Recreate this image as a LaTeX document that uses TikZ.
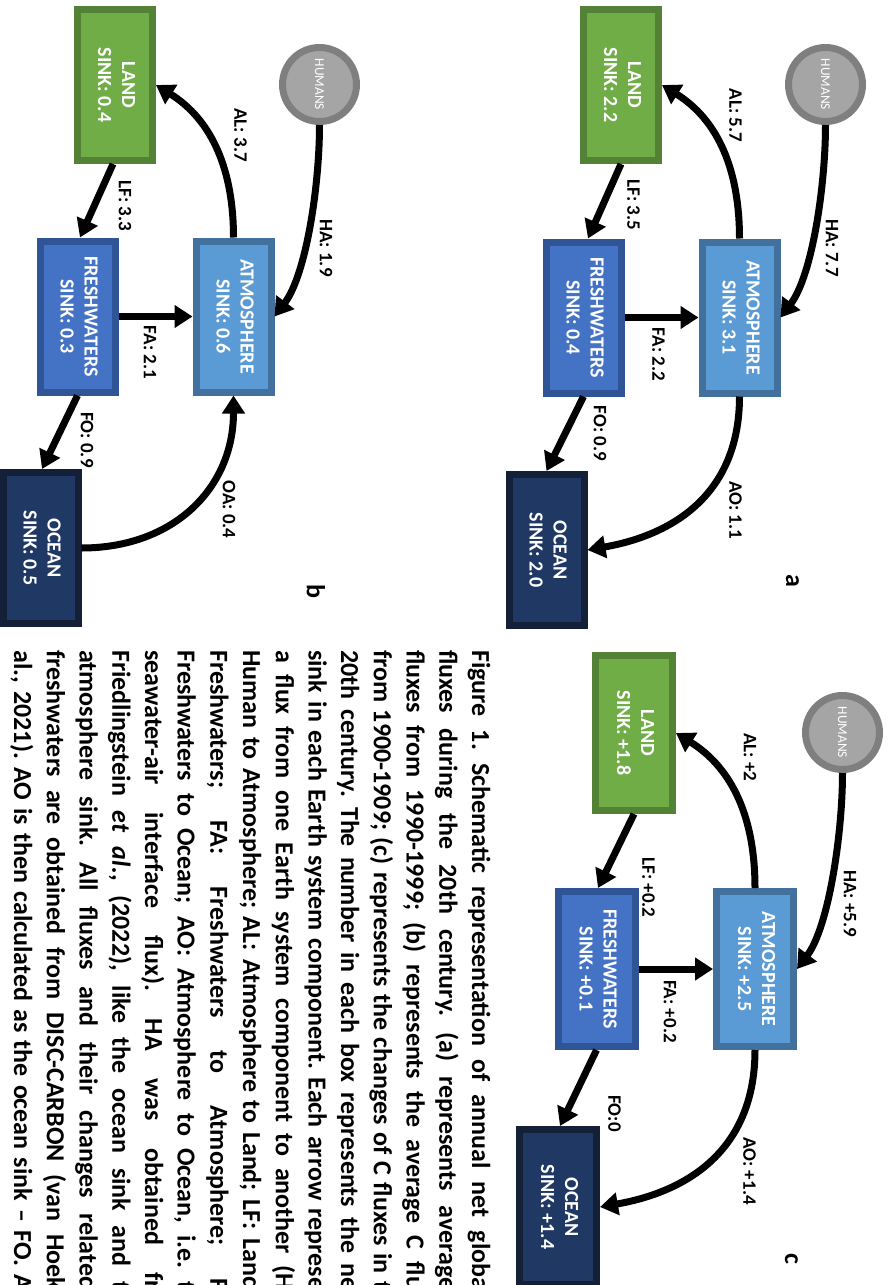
\documentclass[tikz,border=0pt]{standalone}
\usepackage{graphicx}
\usepackage{fontspec}
\setmainfont{Carlito}
\usetikzlibrary{arrows.meta,calc}
\frenchspacing

\definecolor{landfill}{HTML}{70AD47}
\definecolor{landedge}{HTML}{538135}
\definecolor{fwfill}{HTML}{4472C4}
\definecolor{fwedge}{HTML}{2F5597}
\definecolor{atmfill}{HTML}{5B9BD5}
\definecolor{atmedge}{HTML}{41719C}
\definecolor{ocfill}{HTML}{203864}
\definecolor{ocedge}{HTML}{141F38}
\definecolor{humfill}{HTML}{A5A5A5}
\definecolor{humedge}{HTML}{7F7F7F}

% two-line box label, set vertically
\newcommand{\sinktext}[2]{\rotatebox{-90}{\begin{tabular}{@{}c@{}}#1\\#2\end{tabular}}}
% one justified caption line
\newcommand{\capline}[1]{\makebox[640pt][s]{#1}}

\tikzset{
  sinkbox/.style={rectangle, line width=7pt, minimum width=75pt, minimum height=151pt,
    inner sep=0pt, text=white, font=\fontsize{20}{24}\selectfont\bfseries},
  bigbox/.style={minimum width=77pt, minimum height=155pt},
  landbox/.style={sinkbox, draw=landedge, fill=landfill},
  fwbox/.style={sinkbox, draw=fwedge, fill=fwfill},
  atmbox/.style={sinkbox, draw=atmedge, fill=atmfill},
  ocbox/.style={sinkbox, draw=ocedge, fill=ocfill},
  humnode/.style={circle, line width=7pt, minimum size=74pt, inner sep=0pt,
    draw=humedge, fill=humfill, text=white, font=\fontsize{13.5}{15}\selectfont},
  flux/.style={line width=7pt, -{Triangle[length=18pt,width=22pt]}},
  human flux/.style={flux, out=-90, in=53, out distance=60pt, in distance=53pt},
  fluxlabel/.style={rotate=-90, inner sep=0pt, font=\fontsize{19}{23}\selectfont\bfseries},
  panel/.style={rotate=-90, inner sep=0pt, font=\fontsize{26}{28}\selectfont\bfseries},
  capnode/.style={rotate=-90, anchor=base west, inner sep=0pt,
    font=\fontsize{26}{30}\selectfont\bfseries}
}

\begin{document}
\begin{tikzpicture}[x=1pt,y=1pt]
\useasboundingbox (0,0) rectangle (889,-1285);
\clip (0,0) rectangle (889,-1285);

% ---------- panel a : 1990-1999 ----------
\node[landbox] (landA) at (621,-85) {\sinktext{LAND}{SINK: 2.2}};
\node[humnode] (humA) at (825.5,-84.5) {\rotatebox{-90}{HUMANS}};
\node[atmbox] (atmA) at (739.5,-317.5) {\sinktext{ATMOSPHERE}{SINK: 3.1}};
\node[fwbox] (fwA) at (583.5,-317.5) {\sinktext{FRESHWATERS}{SINK: 0.4}};
\node[ocbox] (ocA) at (546.5,-550) {\sinktext{OCEAN}{SINK: 2.0}};

\draw[flux] (atmA.north) to[out=90,in=-32] (landA.east);
\draw[human flux] (humA.south) to (atmA.east);
\draw[flux] (landA.south) -- ([xshift=4.5pt]fwA.north);
\draw[flux] (fwA.east) -- (atmA.west);
\draw[flux] (fwA.south) -- (ocA.north);
\draw[flux] (atmA.south) to[out=-90,in=10,looseness=1.1] (ocA.east);

\node[fluxlabel] (alA) at (735.5,-115.5) {AL: 5.7};
\node[fluxlabel] (lfA) at (633.5,-205) {LF: 3.5};
\node[fluxlabel] (haA) at (832,-248) {HA: 7.7};
\node[fluxlabel] (faA) at (658.5,-354.5) {FA: 2.2};
\node[fluxlabel] (foA) at (600,-433.5) {FO: 0.9};
\node[fluxlabel] (aoA) at (735.5,-510) {AO: 1.1};
\node[panel] (tagA) at (792.5,-581) {a};

% ---------- panel b : 1900-1909 ----------
\node[landbox] (landB) at (115,-85) {\sinktext{LAND}{SINK: 0.4}};
\node[humnode] (humB) at (319.5,-84.5) {\rotatebox{-90}{HUMANS}};
\node[atmbox] (atmB) at (233.5,-316.5) {\sinktext{ATMOSPHERE}{SINK: 0.6}};
\node[fwbox] (fwB) at (77.5,-316.5) {\sinktext{FRESHWATERS}{SINK: 0.3}};
\node[ocbox] (ocB) at (40.5,-548) {\sinktext{OCEAN}{SINK: 0.5}};

\draw[flux] (atmB.north) to[out=90,in=-32] (landB.east);
\draw[human flux] (humB.south) to (atmB.east);
\draw[flux] ([xshift=-2pt]landB.south) -- ([xshift=2.5pt]fwB.north);
\draw[flux] (fwB.east) -- (atmB.west);
\draw[flux] (fwB.south) -- ([xshift=1.5pt]ocB.north);
\draw[flux] (ocB.east) to[out=0,in=-90,looseness=1.1] (atmB.south);

\node[fluxlabel] (alB) at (240.5,-135) {AL: 3.7};
\node[fluxlabel] (lfB) at (125,-206) {LF: 3.3};
\node[fluxlabel] (haB) at (326,-248) {HA: 1.9};
\node[fluxlabel] (faB) at (150,-352.5) {FA: 2.1};
\node[fluxlabel] (foB) at (87,-440) {FO: 0.9};
\node[fluxlabel] (oaB) at (229,-509.5) {OA: 0.4};
\node[panel] (tagB) at (316,-591) {b};

% ---------- panel c : changes ----------
\node[landbox,bigbox] (landC) at (634,-733) {\sinktext{LAND}{SINK: +1.8}};
\node[humnode] (humC) at (842.5,-732.5) {\rotatebox{-90}{HUMANS}};
\node[atmbox,bigbox] (atmC) at (755,-969) {\sinktext{ATMOSPHERE}{SINK: +2.5}};
\node[fwbox,bigbox] (fwC) at (596.5,-969) {\sinktext{FRESHWATERS}{SINK: +0.1}};
\node[ocbox,bigbox] (ocC) at (558,-1207) {\sinktext{OCEAN}{SINK: +1.4}};

\draw[flux] (atmC.north) to[out=90,in=-32] (landC.east);
\draw[human flux] (humC.south) to (atmC.east);
\draw[flux] (landC.south) -- ([xshift=1.5pt]fwC.north);
\draw[flux] (fwC.east) -- (atmC.west);
\draw[flux] (fwC.south) -- ([xshift=2pt]ocC.north);
\draw[flux] (atmC.south) to[out=-90,in=10,looseness=1.1] (ocC.east);

\node[fluxlabel] (alC) at (750,-757.5) {AL: +2};
\node[fluxlabel] (lfC) at (648.5,-887.5) {LF: +0.2};
\node[fluxlabel] (haC) at (850,-903.5) {HA: +5.9};
\node[fluxlabel] (faC) at (670,-1011.5) {FA: +0.2};
\node[fluxlabel] (foC) at (614.5,-1113.5) {FO:0};
\node[fluxlabel] (aoC) at (749.5,-1171) {AO: +1.4};
\node[panel] (tagC) at (791.5,-1259) {c};

% ---------- caption ----------
\node[capnode] (cap1) at (472.0,-650) {\capline{Figure 1. Schematic representation of annual net globa}};
\node[capnode] (cap2) at (439.3,-650) {\capline{fluxes during the 20th century. (a) represents average}};
\node[capnode] (cap3) at (406.6,-650) {\capline{fluxes from 1990-1999; (b) represents the average C flu}};
\node[capnode] (cap4) at (373.9,-650) {\capline{from 1900-1909; (c) represents the changes of C fluxes in t}};
\node[capnode] (cap5) at (341.2,-650) {\capline{20th century. The number in each box represents the ne}};
\node[capnode] (cap6) at (308.5,-650) {\capline{sink in each Earth system component. Each arrow represe}};
\node[capnode] (cap7) at (275.8,-650) {\capline{a flux from one Earth system component to another (H}};
\node[capnode] (cap8) at (243.1,-650) {\capline{Human to Atmosphere; AL: Atmosphere to Land; LF: Land}};
\node[capnode] (cap9) at (210.4,-650) {\capline{Freshwaters; FA: Freshwaters to Atmosphere; F}};
\node[capnode] (cap10) at (177.7,-650) {\capline{Freshwaters to Ocean; AO: Atmosphere to Ocean, i.e. t}};
\node[capnode] (cap11) at (145.0,-650) {\capline{seawater-air interface flux). HA was obtained fr}};
\node[capnode] (cap12) at (112.3,-650) {\capline{Friedlingstein \textit{et al.}, (2022), like the ocean sink and t}};
\node[capnode] (cap13) at (79.6,-650) {\capline{atmosphere sink. All fluxes and their changes related}};
\node[capnode] (cap14) at (46.9,-650) {\capline{freshwaters are obtained from DISC-CARBON (van Hoek}};
\node[capnode] (cap15) at (14.2,-650) {\capline{al., 2021). AO is then calculated as the ocean sink – FO. A}};
\end{tikzpicture}
\end{document}
